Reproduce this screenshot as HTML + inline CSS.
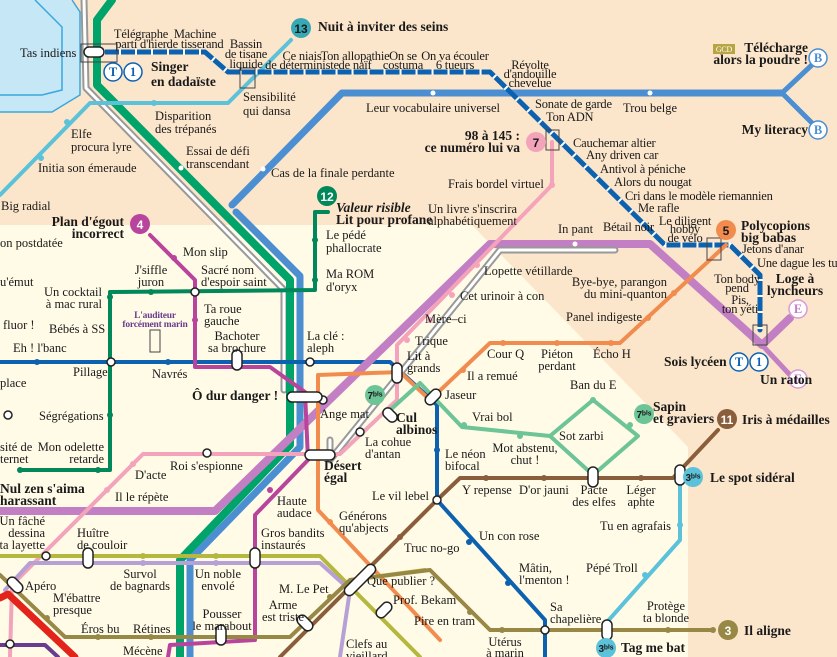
<!DOCTYPE html>
<html><head><meta charset="utf-8"><style>
html,body{margin:0;padding:0;background:#fce6cb}
svg{display:block}
text{font-family:"Liberation Serif",serif;font-size:12.5px;fill:#1a1a1a}
.s{font-size:9.5px;letter-spacing:-0.2px}
.b{font-weight:bold;font-size:13.5px}
.m{text-anchor:middle}
.e{text-anchor:end}
.bd{font-family:"Liberation Sans",sans-serif;font-weight:bold;text-anchor:middle;font-size:12px}
.bs{font-family:"Liberation Sans",sans-serif;font-weight:bold;text-anchor:middle;font-size:10px}
</style></head><body>
<svg width="837" height="657" viewBox="0 0 837 657" xmlns="http://www.w3.org/2000/svg">
<rect width="837" height="657" fill="#fce6cb"/>
<polygon points="0,225 472,225 688,447 688,657 0,657" fill="#fffbe7"/>
<polygon points="0,0 70,0 80,12 80,95 50,112 0,112" fill="#c5e7f6"/>
<polyline points="35,0 62,27 62,90 42,95 0,95" fill="none" stroke="#3aa7dd" stroke-width="1.5"/>
<polyline points="72,0 80,12 80,95 52,112 0,112" fill="none" stroke="#3aa7dd" stroke-width="1.5"/>
<g fill="none" stroke-linejoin="round" stroke-linecap="round">
<polyline points="84,0 86,88 284,290 284,390" stroke="#999" stroke-width="7"/>
<polyline points="84,0 86,88 284,290 284,390" stroke="#fff" stroke-width="3"/>
<polyline points="112,0 97,20 97,85 290,280 290,445 180,560 180,657" stroke="#00a36a" stroke-width="8"/>
<polyline points="782,93 342,93 232,205" stroke="#4b8fd2" stroke-width="7"/>
<polyline points="236,212 300,276 300,447 190,560 190,657" stroke="#4b8fd2" stroke-width="7"/>
<polyline points="782,93 815,62" stroke="#4b8fd2" stroke-width="5"/>
<polyline points="782,93 815,126" stroke="#4b8fd2" stroke-width="5"/>
<polyline points="291,40 228,103 90,103 0,195" stroke="#5cc2d9" stroke-width="4"/>
<polyline points="103,52 205,52 228,72 490,72 665,245 730,245 760,275 760,330" stroke="#0d62b0" stroke-width="5"/>
<polyline points="103,52 205,52 228,72 490,72 665,245 730,245 760,275 760,330" stroke="#fff" stroke-width="5" stroke-dasharray="2 14" stroke-linecap="butt"/>
<polyline points="0,362 390,362 437,405 437,500 545,620 545,657" stroke="#0d62b0" stroke-width="4"/>
<polyline points="0,511 215,511 490,244 650,244 762,345 790,318" stroke="#c37fc3" stroke-width="8"/>
<polyline points="762,345 790,375" stroke="#c37fc3" stroke-width="5"/>
<polyline points="330,440 330,460 500,250 615,250" stroke="#999" stroke-width="7"/>
<polyline points="330,440 330,460 500,250 615,250" stroke="#fff" stroke-width="3"/>
<polyline points="552,142 552,185 397,345 397,400 340,454 143,454 12,585 10,657" stroke="#f3a3ba" stroke-width="4"/>
<polyline points="726,245 620,343 490,343 430,400 400,372 318,375 318,510 440,640" stroke="#f28c4e" stroke-width="4"/>
<polyline points="388,412 420,383 462,427 550,436 593,400 638,436 593,475 550,436" stroke="#6cc497" stroke-width="4"/>
<polyline points="328,212 315,212 315,290 110,292 110,470 20,470" stroke="#00875a" stroke-width="4"/>
<polyline points="150,235 195,280 195,367 270,367 305,392 308,460 255,515 255,640 170,645 168,657" stroke="#b8449b" stroke-width="4"/>
<polyline points="680,472 680,540 607,622 607,636" stroke="#5cc2d9" stroke-width="4"/>
<polyline points="718,430 673,478 460,478 437,500 280,657" stroke="#8a5e3b" stroke-width="4"/>
<polyline points="0,556 320,556 420,657" stroke="#b4b83e" stroke-width="4"/>
<polyline points="350,580 425,570" stroke="#b4b83e" stroke-width="4"/>
<polyline points="5,590 30,563 320,563 350,590 340,657" stroke="#b7a0d6" stroke-width="4"/>
<polyline points="0,575 65,637 290,637 350,580 430,570 490,630 713,630" stroke="#978845" stroke-width="4"/>
<polyline points="0,598 8,594 75,657" stroke="#e3241b" stroke-width="7"/>
<polyline points="0,645 45,645 58,657" stroke="#6a3c8f" stroke-width="4"/>
</g>
<g fill="#fff">
<circle cx="41" cy="158" r="3" fill="#5cc2d9"/><circle cx="67" cy="122" r="3" fill="#5cc2d9"/><circle cx="154" cy="103" r="3" fill="#5cc2d9"/>
<circle cx="181" cy="168" r="2.5"/><circle cx="263" cy="169" r="2.5"/><circle cx="433" cy="93" r="2.5"/><circle cx="650" cy="93" r="2.5"/><circle cx="575" cy="244" r="2.5"/>
<circle cx="174" cy="258" r="3" fill="#b8449b"/><circle cx="195" cy="320" r="3" fill="#b8449b"/><circle cx="270" cy="490" r="3" fill="#b8449b"/>
<circle cx="315" cy="240" r="3" fill="#00875a"/><circle cx="315" cy="280" r="3" fill="#00875a"/><circle cx="151" cy="292" r="3" fill="#00875a"/><circle cx="110" cy="297" r="3" fill="#00875a"/><circle cx="110" cy="415" r="3" fill="#00875a"/><circle cx="98" cy="470" r="3" fill="#00875a"/><circle cx="20" cy="470" r="3" fill="#00875a"/>
<circle cx="37" cy="362" r="3" fill="#0d62b0"/><circle cx="168" cy="362" r="3" fill="#0d62b0"/><circle cx="437" cy="450" r="3" fill="#0d62b0"/><circle cx="469" cy="542" r="3" fill="#0d62b0"/><circle cx="508" cy="583" r="3" fill="#0d62b0"/>
<circle cx="552" cy="185" r="3" fill="#f3a3ba"/><circle cx="477" cy="265" r="3" fill="#f3a3ba"/><circle cx="452" cy="295" r="3" fill="#f3a3ba"/><circle cx="430" cy="320" r="3" fill="#f3a3ba"/><circle cx="407" cy="340" r="3" fill="#f3a3ba"/><circle cx="133" cy="464" r="3" fill="#f3a3ba"/><circle cx="107" cy="490" r="3" fill="#f3a3ba"/>
<circle cx="503" cy="343" r="3" fill="#f28c4e"/><circle cx="557" cy="343" r="3" fill="#f28c4e"/><circle cx="611" cy="343" r="3" fill="#f28c4e"/><circle cx="463" cy="370" r="3" fill="#f28c4e"/><circle cx="648" cy="318" r="3" fill="#f28c4e"/><circle cx="674" cy="293" r="3" fill="#f28c4e"/><circle cx="330" cy="522" r="3" fill="#f28c4e"/>
<circle cx="464" cy="425" r="3" fill="#6cc497"/><circle cx="520" cy="436" r="3" fill="#6cc497"/><circle cx="593" cy="400" r="3" fill="#6cc497"/><circle cx="630" cy="425" r="3" fill="#6cc497"/>
<circle cx="486" cy="478" r="3" fill="#8a5e3b"/><circle cx="544" cy="478" r="3" fill="#8a5e3b"/><circle cx="641" cy="478" r="3" fill="#8a5e3b"/><circle cx="400" cy="537" r="3" fill="#8a5e3b"/>
<circle cx="680" cy="525" r="3" fill="#5cc2d9"/><circle cx="645" cy="575" r="3" fill="#5cc2d9"/>
<circle cx="143" cy="556" r="3" fill="#b4b83e"/><circle cx="216" cy="556" r="3" fill="#b4b83e"/><circle cx="143" cy="563" r="3" fill="#b7a0d6"/><circle cx="216" cy="563" r="3" fill="#b7a0d6"/>
<circle cx="47" cy="618" r="3" fill="#978845"/><circle cx="98" cy="637" r="3" fill="#978845"/><circle cx="151" cy="637" r="3" fill="#978845"/><circle cx="330" cy="597" r="3" fill="#978845"/><circle cx="470" cy="612" r="3" fill="#978845"/><circle cx="502" cy="630" r="3" fill="#978845"/><circle cx="668" cy="630" r="3" fill="#978845"/><circle cx="713" cy="630" r="3" fill="#978845"/>
</g>
<g fill="#fff" stroke="#222" stroke-width="1.5">
<circle cx="195" cy="292" r="4"/><circle cx="310" cy="362" r="4"/><circle cx="111" cy="362" r="4"/><circle cx="207" cy="453" r="4"/><circle cx="46" cy="556" r="4"/><circle cx="437" cy="500" r="4"/><circle cx="545" cy="630" r="4"/><circle cx="10" cy="644" r="4"/><circle cx="8" cy="415" r="4"/><circle cx="360" cy="432" r="4"/><circle cx="323" cy="400" r="4"/>
<rect x="84" y="47" width="20" height="10" rx="5"/><rect x="232" y="350" width="10" height="20" rx="5"/><rect x="392" y="363" width="10" height="20" rx="5"/><rect x="287" y="392" width="35" height="10" rx="5"/><rect x="305" y="450" width="30" height="10" rx="5"/><rect x="83" y="548" width="10" height="20" rx="5"/><rect x="250" y="548" width="10" height="20" rx="5"/><rect x="216" y="625" width="10" height="20" rx="5"/><rect x="588" y="467" width="10" height="20" rx="5"/><rect x="675" y="465" width="10" height="20" rx="5"/><rect x="602" y="620" width="10" height="20" rx="5"/>
<rect x="424" y="392" width="18" height="10" rx="5" transform="rotate(-45 433 397)"/><rect x="382" y="410" width="16" height="10" rx="5" transform="rotate(45 390 415)"/><rect x="340" y="575" width="40" height="10" rx="5" transform="rotate(-45 360 580)"/><rect x="375" y="605" width="18" height="10" rx="5" transform="rotate(-45 384 610)"/><rect x="296" y="618" width="18" height="10" rx="5" transform="rotate(45 305 623)"/><rect x="6" y="580" width="18" height="10" rx="5" transform="rotate(45 15 585)"/>
</g>
<g fill="none" stroke="#444" stroke-width="1"><rect x="81" y="44" width="36" height="18"/><rect x="240" y="68" width="15" height="20"/><rect x="546" y="130" width="13" height="20"/><rect x="707" y="238" width="14" height="22"/><rect x="753" y="325" width="14" height="20"/><rect x="150" y="330" width="10" height="22"/></g>
<g>
<circle cx="301" cy="28" r="10" fill="#36a9b5"/><text x="301" y="33" class="bd">13</text>
<circle cx="327" cy="196" r="10" fill="#00875a"/><text x="327" y="201" class="bd" style="fill:#fff">12</text>
<circle cx="140" cy="224" r="10" fill="#b8449b"/><text x="140" y="229" class="bd" style="fill:#fff">4</text>
<circle cx="536" cy="142" r="10" fill="#f3a3ba"/><text x="536" y="147" class="bd">7</text>
<circle cx="726" cy="230" r="10" fill="#f28c4e"/><text x="726" y="235" class="bd">5</text>
<circle cx="727" cy="419" r="10" fill="#8a5e3b"/><text x="727" y="424" class="bd" style="fill:#fff">11</text>
<circle cx="728" cy="630" r="10" fill="#978845"/><text x="728" y="635" class="bd" style="fill:#fff">3</text>
<circle cx="375" cy="395" r="10" fill="#6cc497"/><text x="375" y="399" class="bs">7ᵇⁱˢ</text>
<circle cx="644" cy="414" r="10" fill="#6cc497"/><text x="644" y="418" class="bs">7ᵇⁱˢ</text>
<circle cx="693" cy="477" r="10" fill="#5cc2d9"/><text x="693" y="481" class="bs">3ᵇⁱˢ</text>
<circle cx="606" cy="648" r="10" fill="#5cc2d9"/><text x="606" y="652" class="bs">3ᵇⁱˢ</text>
</g>
<g fill="#fff" stroke-width="1.5">
<circle cx="113" cy="72" r="9" stroke="#0d62b0"/><circle cx="133" cy="72" r="9" stroke="#0d62b0"/>
<circle cx="739" cy="362" r="9" stroke="#0d62b0"/><circle cx="759" cy="362" r="9" stroke="#0d62b0"/>
<circle cx="818" cy="58" r="9" stroke="#4b8fd2"/><circle cx="818" cy="130" r="9" stroke="#4b8fd2"/>
<circle cx="798" cy="309" r="9" stroke="#d79ad7"/><circle cx="798" cy="379" r="9" stroke="#d79ad7"/>
</g>
<g class="bd" style="font-size:11px">
<text x="113" y="76" style="fill:#0d62b0">T</text><text x="133" y="76" style="fill:#0d62b0">1</text>
<text x="739" y="366" style="fill:#0d62b0">T</text><text x="759" y="366" style="fill:#0d62b0">1</text>
<text x="818" y="62" style="fill:#4b8fd2">B</text><text x="818" y="134" style="fill:#4b8fd2">B</text>
<text x="798" y="313" style="fill:#c37fc3">E</text><text x="798" y="383" style="fill:#c37fc3">E</text>
</g>
<rect x="713" y="44" width="22" height="10" fill="#b7a544"/><text x="724" y="52" class="m s" style="fill:#fff;font-size:8px">GCD</text>
<text x="20" y="57">Tas indiens</text>
<g class="s m"><text x="141" y="38">Télégraphe</text><text x="141" y="48">parti d'hier</text>
<text x="195" y="38">Machine</text><text x="195" y="48">de tisserand</text>
<text x="246" y="48">Bassin</text><text x="246" y="58">de tisane</text><text x="246" y="68">liquide</text>
<text x="302" y="60">Ce niais</text><text x="302" y="69">de déterministe</text>
<text x="355" y="60">Ton allopathie</text><text x="355" y="69">de naïf</text>
<text x="403" y="60">On se</text><text x="403" y="69">costuma</text>
<text x="455" y="60">On va écouler</text><text x="455" y="69">6 tueurs</text>
<text x="530" y="69">Révolte</text><text x="530" y="78">d'andouille</text><text x="530" y="87">chevelue</text>
<text x="685" y="225">Le diligent</text><text x="685" y="233">hobby</text><text x="685" y="242">de vélo</text>
<text x="737" y="283">Ton body</text><text x="737" y="292">pend</text><text x="740" y="304">Pis,</text><text x="740" y="313">ton yéti</text></g>
<g class="s"><text x="535" y="108">Sonate de garde</text><text x="546" y="121">Ton ADN</text>
<text x="573" y="147">Cauchemar altier</text><text x="586" y="159">Any driven car</text><text x="600" y="173">Antivol à péniche</text><text x="614" y="186">Alors du nougat</text><text x="625" y="200">Cri dans le modèle riemannien</text><text x="638" y="212">Me rafle</text><text x="603" y="231">Bétail noir</text><text x="742" y="253">Jetons d'anar</text><text x="757" y="267">Une dague les tua</text></g>
<text x="318" y="31" class="b">Nuit à inviter des seins</text>
<text x="151" y="71" class="b">Singer</text><text x="151" y="86" class="b">en dadaïste</text>
<text x="243" y="101">Sensibilité</text><text x="243" y="115">qui dansa</text>
<text x="155" y="120">Disparition</text><text x="155" y="133">des trépanés</text>
<text x="71" y="138">Elfe</text><text x="71" y="151">procura lyre</text>
<text x="38" y="172">Initia son émeraude</text>
<text x="186" y="155">Essai de défi</text><text x="186" y="168">transcendant</text>
<text x="1" y="210">Big radial</text>
<text x="366" y="112">Leur vocabulaire universel</text>
<text x="623" y="112">Trou belge</text>
<text x="520" y="140" class="b e">98 à 145 :</text><text x="520" y="152" class="b e">ce numéro lui va</text>
<text x="448" y="188">Frais bordel virtuel</text>
<text x="428" y="213">Un livre s'inscrira</text><text x="428" y="225">alphabétiquement</text>
<text x="271" y="177">Cas de la finale perdante</text>
<text x="336" y="212" class="b" style="font-style:italic">Valeur risible</text><text x="336" y="224" class="b">Lit pour profane</text>
<text x="326" y="239">Le pédé</text><text x="326" y="252">phallocrate</text>
<text x="326" y="278">Ma ROM</text><text x="326" y="291">d'oryx</text>
<text x="124" y="226" class="b e">Plan d'égout</text><text x="124" y="238" class="b e">incorrect</text>
<text x="558" y="233">In pant</text>
<text x="0" y="247">on postdatée</text>
<text x="183" y="256">Mon slip</text>
<text x="151" y="274" class="m">J'siffle</text><text x="151" y="286" class="m">juron</text>
<text x="201" y="274">Sacré nom</text><text x="201" y="286">d'espoir saint</text>
<text x="0" y="286">u'émut</text>
<text x="102" y="296" class="e">Un cocktail</text><text x="102" y="308" class="e">à mac rural</text>
<text x="155" y="318" class="m s" style="fill:#6a3c8f;font-weight:bold">L'auditeur</text><text x="155" y="327" class="m s" style="fill:#6a3c8f;font-weight:bold">forcément marin</text>
<text x="204" y="313">Ta roue</text><text x="204" y="325">gauche</text>
<text x="3" y="329">fluor !</text><text x="49" y="333">Bébés à SS</text>
<text x="13" y="352">Eh ! l'banc</text>
<text x="237" y="340" class="m">Bachoter</text><text x="237" y="352" class="m">sa brochure</text>
<text x="307" y="340">La clé :</text><text x="307" y="352">aleph</text>
<text x="73" y="376">Pillage</text><text x="152" y="378">Navrés</text><text x="0" y="387">place</text>
<text x="192" y="400" class="b">Ô dur danger !</text>
<text x="39" y="420">Ségrégations</text>
<text x="104" y="451" class="e">Mon odelette</text><text x="104" y="463" class="e">retarde</text>
<text x="0" y="451">sité de</text><text x="0" y="463">ternet</text>
<text x="170" y="470">Roi s'espionne</text><text x="135" y="479">D'acte</text>
<text x="0" y="493" class="b">Nul zen s'aima</text><text x="0" y="505" class="b">harassant</text>
<text x="115" y="501">Il le répète</text>
<text x="45" y="525" class="e">Un fâché</text><text x="45" y="537" class="e">dessina</text><text x="45" y="549" class="e">ta layette</text>
<text x="77" y="537">Huître</text><text x="77" y="549">de couloir</text>
<text x="277" y="505">Haute</text><text x="277" y="517">audace</text>
<text x="261" y="537">Gros bandits</text><text x="261" y="549">instaurés</text>
<text x="140" y="578" class="m">Survol</text><text x="140" y="590" class="m">de bagnards</text>
<text x="218" y="578" class="m">Un noble</text><text x="218" y="590" class="m">envolé</text>
<text x="25" y="590">Apéro</text>
<text x="53" y="602">M'ébattre</text><text x="53" y="614">presque</text>
<text x="81" y="633">Éros bu</text><text x="133" y="633">Rétines</text>
<text x="222" y="618" class="m">Pousser</text><text x="222" y="630" class="m">le marabout</text>
<text x="279" y="593">M. Le Pet</text>
<text x="283" y="609" class="m">Arme</text><text x="283" y="621" class="m">est triste</text>
<text x="123" y="655">Mécène</text>
<text x="346" y="648">Clefs au</text><text x="346" y="660">vieillard</text>
<text x="320" y="418">Ange mat</text>
<text x="365" y="446">La cohue</text><text x="365" y="458">d'antan</text>
<text x="324" y="470" class="b">Désert</text><text x="324" y="482" class="b">égal</text>
<text x="407" y="360">Lit à</text><text x="407" y="372">grands</text>
<text x="396" y="422" class="b">Cul</text><text x="396" y="434" class="b">albinos</text>
<text x="415" y="345">Trique</text><text x="425" y="323">Mère–ci</text>
<text x="460" y="300">Cet urinoir à con</text><text x="484" y="275">Lopette vétillarde</text>
<text x="667" y="286" class="e">Bye-bye, parangon</text><text x="667" y="298" class="e">du mini-quanton</text>
<text x="566" y="321">Panel indigeste</text>
<text x="487" y="358">Cour Q</text>
<text x="557" y="358" class="m">Piéton</text><text x="557" y="370" class="m">perdant</text>
<text x="593" y="358">Écho H</text>
<text x="467" y="380">Il a remué</text>
<text x="445" y="399">Jaseur</text>
<text x="570" y="389">Ban du E</text>
<text x="472" y="421">Vrai bol</text>
<text x="559" y="440">Sot zarbi</text>
<text x="653" y="411" class="b">Sapin</text><text x="653" y="423" class="b">et graviers</text>
<text x="742" y="424" class="b">Iris à médailles</text>
<text x="445" y="458">Le néon</text><text x="445" y="470">bifocal</text>
<text x="525" y="452" class="m">Mot abstenu,</text><text x="525" y="464" class="m">chut !</text>
<text x="372" y="500">Le vil lebel</text>
<text x="462" y="494">Y repense</text><text x="519" y="494">D'or jauni</text>
<text x="594" y="494" class="m">Pacte</text><text x="594" y="506" class="m">des elfes</text>
<text x="641" y="494" class="m">Léger</text><text x="641" y="506" class="m">aphte</text>
<text x="710" y="482" class="b">Le spot sidéral</text>
<text x="339" y="520">Générons</text><text x="339" y="532">qu'abjects</text>
<text x="479" y="540">Un con rose</text>
<text x="600" y="530">Tu en agrafais</text>
<text x="404" y="552">Truc no-go</text>
<text x="367" y="585">Que publier ?</text>
<text x="586" y="572">Pépé Troll</text>
<text x="519" y="572">Mâtin,</text><text x="519" y="584">l'menton !</text>
<text x="393" y="604">Prof. Bekam</text>
<text x="414" y="625">Pire en tram</text>
<text x="550" y="611">Sa</text><text x="550" y="623">chapelière</text>
<text x="666" y="610" class="m">Protège</text><text x="666" y="622" class="m">ta blonde</text>
<text x="744" y="635" class="b">Il aligne</text>
<text x="621" y="652" class="b">Tag me bat</text>
<text x="505" y="646" class="m">Utérus</text><text x="505" y="657" class="m">à marin</text>
<text x="808" y="52" class="b e">Télécharge</text><text x="808" y="64" class="b e">alors la poudre !</text>
<text x="808" y="134" class="b e">My literacy</text>
<text x="741" y="230" class="b">Polycopions</text><text x="741" y="242" class="b">big babas</text>
<text x="795" y="283" class="b m">Loge à</text><text x="795" y="295" class="b m">lyncheurs</text>
<text x="664" y="366" class="b">Sois lycéen</text>
<text x="760" y="384" class="b">Un raton</text>
</svg>
</body></html>
